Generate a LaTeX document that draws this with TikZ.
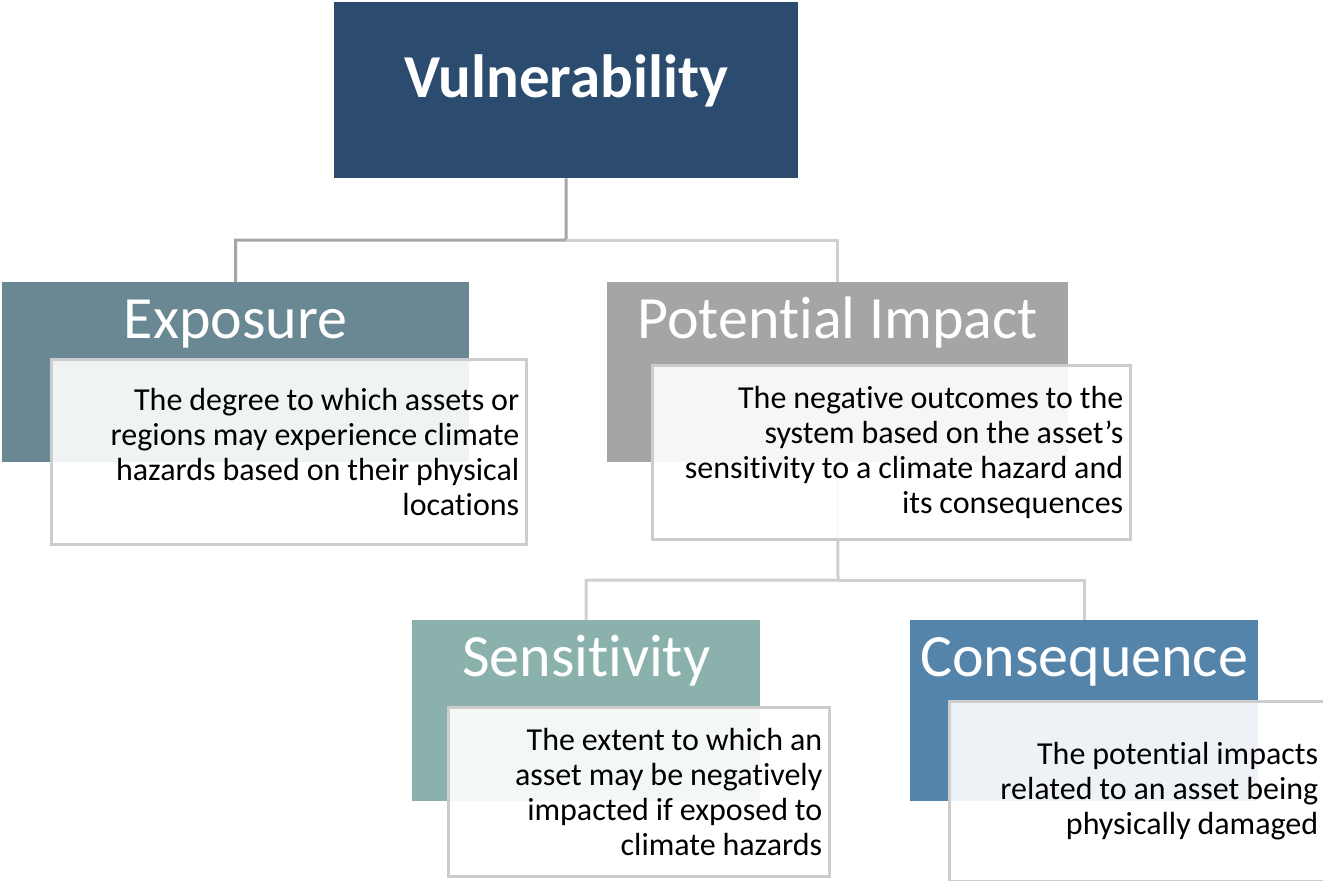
\documentclass[tikz,border=0pt]{standalone}
\usepackage{fontspec}
\setmainfont{Carlito}[RawFeature=-liga]
\usepackage{tikz}
\usetikzlibrary{positioning}
\definecolor{vulblue}{RGB}{44,76,111}
\definecolor{expslate}{RGB}{106,136,147}
\definecolor{impgray}{RGB}{165,165,165}
\definecolor{senteal}{RGB}{139,177,172}
\definecolor{conblue}{RGB}{85,132,170}
\definecolor{linkdark}{RGB}{166,166,166}
\definecolor{linklight}{RGB}{208,208,208}
\definecolor{descline}{RGB}{204,204,204}
\tikzstyle{titlebox}=[rectangle, anchor=north west, text=white, inner sep=0pt, text height=56pt, text depth=124pt, font=\fontsize{60}{72}\selectfont]
\tikzstyle{descbox}=[rectangle, anchor=north west, draw=descline, line width=2.5pt, fill=white, fill opacity=0.9, text opacity=1, text=black, align=right, inner xsep=7pt, inner ysep=0pt, font=\fontsize{32}{35}\selectfont, execute at begin node={\spaceskip=0.215em\relax}]
\tikzstyle{darklink}=[draw=linkdark, line width=3pt]
\tikzstyle{lightlink}=[draw=linklight, line width=3pt]

\begin{document}
\begin{tikzpicture}[x=1pt, y=-1pt]
            \useasboundingbox (0,0) rectangle (1323,881);

            \node[titlebox, fill=vulblue, minimum width=464pt, text height=95pt, text depth=81pt, font=\fontsize{61}{72}\selectfont\bfseries] (vul) at (334,2) {Vulnerability};
            \node[titlebox, fill=expslate, minimum width=467pt] (exp) at (2,282) {Exposure};
            \node[titlebox, fill=impgray, minimum width=461pt] (imp) at (607,282) {Potential Impact};
            \node[titlebox, fill=senteal, minimum width=348pt, text depth=125pt] (sen) at (412,620) {Sensitivity};
            \node[titlebox, fill=conblue, minimum width=348pt, text depth=125pt] (con) at (910,620) {Consequence};

            \coordinate (vsplit) at (566,240);
            \coordinate (isplit) at (838,580);
            \draw[darklink] (vul.south) -- (vsplit) -| (exp.north);
            \draw[lightlink] (vsplit) -| (imp.north);
            \draw[lightlink] (imp.south) -- (isplit) -| (sen.north);
            \draw[lightlink] (isplit) -| (con.north);

            \node[descbox, text width=461pt, minimum height=185pt] (expdesc) at (50,358) {The degree to which assets or\\regions may experience climate\\hazards based on their physical\\locations};
            \node[descbox, text width=464pt, minimum height=174pt] (impdesc) at (651,364) {The negative outcomes to the\\system based on the asset’s\\sensitivity to a climate hazard and\\its consequences};
            \node[descbox, text width=367pt, minimum height=169pt] (sendesc) at (447,706) {The extent to which an\\asset may be negatively\\impacted if exposed to\\climate hazards};
            \node[descbox, text width=362pt, minimum height=180pt] (condesc) at (948,700) {The potential impacts\\related to an asset being\\physically damaged};
        \end{tikzpicture}
\end{document}
